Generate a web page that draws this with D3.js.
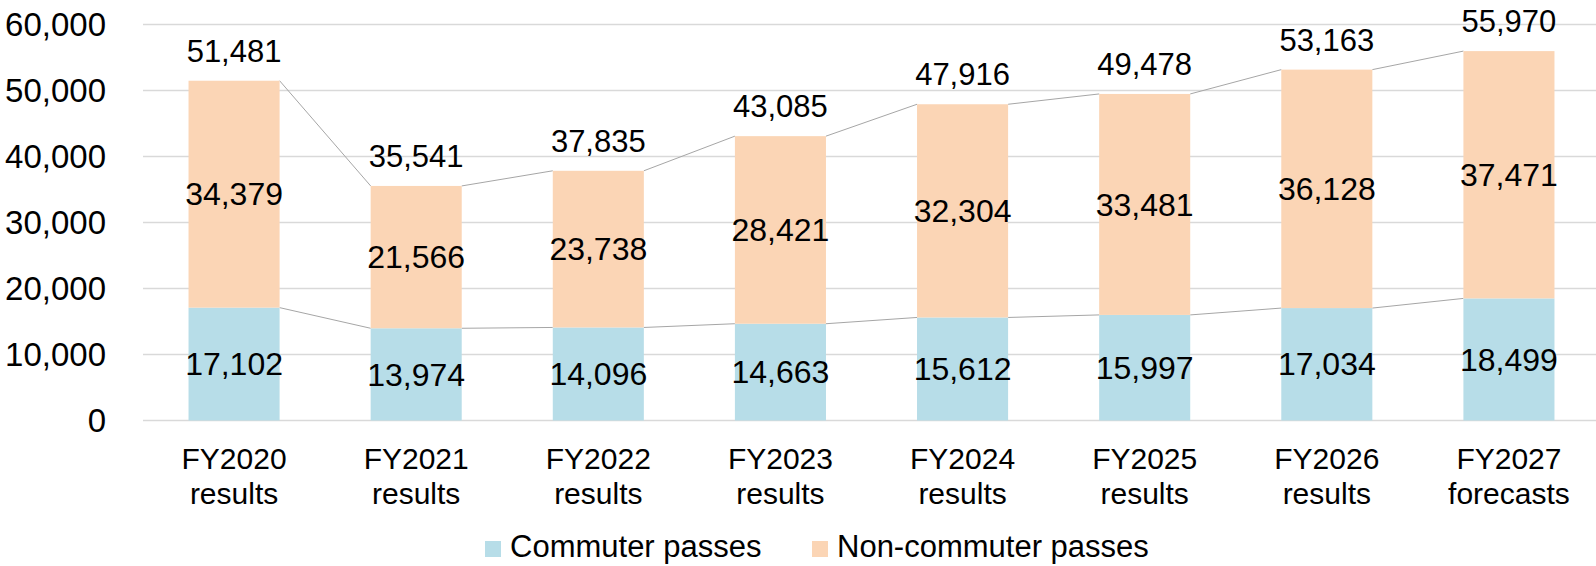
<!DOCTYPE html>
<html>
<head>
<meta charset="utf-8">
<script src="https://cdn.jsdelivr.net/npm/d3@7"></script>
<style>
  body { margin: 0; background: #fff; }
  svg { display: block; font-family: "Liberation Sans", Arial, sans-serif; }
</style>
</head>
<body>
<svg id="chart"></svg>
<script>
const years = ["FY2020", "FY2021", "FY2022", "FY2023", "FY2024", "FY2025", "FY2026", "FY2027"];
const kinds = ["results", "results", "results", "results", "results", "results", "results", "forecasts"];
const commuter = [17102, 13974, 14096, 14663, 15612, 15997, 17034, 18499];
const nonCommuter = [34379, 21566, 23738, 28421, 32304, 33481, 36128, 37471];
const totals = [51481, 35541, 37835, 43085, 47916, 49478, 53163, 55970];
const yTicks = [0, 10000, 20000, 30000, 40000, 50000, 60000];
const seriesNames = ["Commuter passes", "Non-commuter passes"];

const width = 1596;
const height = 566;
const colors = ["#b7dde8", "#fbd5b5"];
const fmt = d3.format(",");

const svg = d3.select("#chart").attr("width", width).attr("height", height);

const x = d3.scaleBand()
  .domain(years)
  .range([143, 1600])
  .paddingInner(0.5)
  .paddingOuter(0.25);

const y = d3.scaleLinear().domain([0, 60000]).range([420.5, 24.5]);

// gridlines
svg.append("g")
  .selectAll("line")
  .data(yTicks)
  .join("line")
  .attr("x1", 143)
  .attr("x2", width)
  .attr("y1", d => y(d))
  .attr("y2", d => y(d))
  .attr("stroke", "#d9d9d9")
  .attr("stroke-width", 1.5);

// y tick labels
svg.append("g")
  .attr("font-size", 33)
  .attr("text-anchor", "end")
  .selectAll("text")
  .data(yTicks)
  .join("text")
  .attr("x", 106)
  .attr("y", d => y(d))
  .attr("dy", "0.35em")
  .text(d => fmt(d));

const rows = years.map((yr, i) => ({ yr, c: commuter[i], n: nonCommuter[i], t: totals[i] }));

// connector lines between bar tops
const links = svg.append("g").attr("stroke", "#a6a6a6").attr("stroke-width", 1);
for (let i = 0; i < rows.length - 1; i++) {
  const a = rows[i], b = rows[i + 1];
  const xa = x(a.yr) + x.bandwidth();
  const xb = x(b.yr);
  links.append("line").attr("x1", xa).attr("x2", xb).attr("y1", y(a.c)).attr("y2", y(b.c));
  links.append("line").attr("x1", xa).attr("x2", xb).attr("y1", y(a.c + a.n)).attr("y2", y(b.c + b.n));
}

// stacked bars
const bars = svg.append("g");
bars.selectAll("rect.c")
  .data(rows)
  .join("rect")
  .attr("class", "c")
  .attr("x", d => x(d.yr))
  .attr("width", x.bandwidth())
  .attr("y", d => y(d.c))
  .attr("height", d => y(0) - y(d.c))
  .attr("fill", colors[0]);
bars.selectAll("rect.n")
  .data(rows)
  .join("rect")
  .attr("class", "n")
  .attr("x", d => x(d.yr))
  .attr("width", x.bandwidth())
  .attr("y", d => y(d.c + d.n))
  .attr("height", d => y(d.c) - y(d.c + d.n))
  .attr("fill", colors[1]);

// value labels
const labels = svg.append("g").attr("font-size", 32).attr("text-anchor", "middle").attr("fill", "#000");
labels.selectAll("text.c")
  .data(rows)
  .join("text")
  .attr("class", "c")
  .attr("x", d => x(d.yr) + x.bandwidth() / 2)
  .attr("y", d => y(d.c / 2))
  .attr("dy", "0.35em")
  .text(d => fmt(d.c));
labels.selectAll("text.n")
  .data(rows)
  .join("text")
  .attr("class", "n")
  .attr("x", d => x(d.yr) + x.bandwidth() / 2)
  .attr("y", d => y(d.c + d.n / 2))
  .attr("dy", "0.35em")
  .text(d => fmt(d.n));
labels.selectAll("text.t")
  .data(rows)
  .join("text")
  .attr("class", "t")
  .attr("font-size", 31)
  .attr("x", d => x(d.yr) + x.bandwidth() / 2)
  .attr("y", d => y(d.t) - 19)
  .text(d => fmt(d.t));

// x axis labels
const xl = svg.append("g").attr("font-size", 30).attr("text-anchor", "middle");
xl.selectAll("text")
  .data(years)
  .join("text")
  .attr("x", d => x(d) + x.bandwidth() / 2)
  .attr("y", 469)
  .call(t => t.append("tspan").text(d => d))
  .call(t => t.append("tspan")
    .attr("x", d => x(d) + x.bandwidth() / 2)
    .attr("dy", 35)
    .text((d, i) => kinds[i]));

// legend
const legendX = [485, 812];
const legend = svg.append("g").attr("font-size", 31);
seriesNames.forEach((name, i) => {
  const g = legend.append("g").attr("transform", `translate(${legendX[i]},0)`);
  g.append("rect").attr("x", 0).attr("y", 541).attr("width", 16).attr("height", 16).attr("fill", colors[i]);
  g.append("text").attr("x", 25).attr("y", 557).text(name);
});
</script>
</body>
</html>
